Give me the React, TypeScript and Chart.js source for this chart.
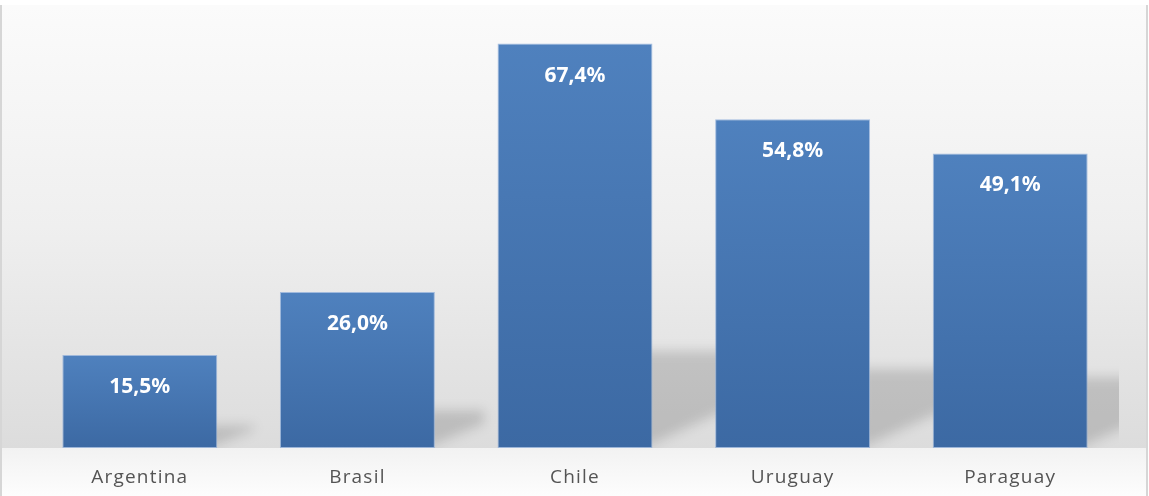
import React, { useEffect, useRef } from "react";
import { Chart, registerables } from "chart.js";

Chart.register(...registerables);

const categories = ["Argentina", "Brasil", "Chile", "Uruguay", "Paraguay"];
const values = [15.5, 26.0, 67.4, 54.8, 49.1];
const yMin = 0;
const yMax = 70;

const fmt = (v: number) => v.toFixed(1).replace(".", ",") + "%";

const backgroundPlugin = {
  id: "bgPlugin",
  beforeDraw(chart: any) {
    const { ctx, width, height, chartArea } = chart;
    ctx.save();
    ctx.fillStyle = "#ffffff";
    ctx.fillRect(0, 0, width, height);
    const base = chartArea.bottom;
    const g = ctx.createLinearGradient(0, 5, 0, base);
    g.addColorStop(0, "#fbfbfb");
    g.addColorStop(0.5, "#efefef");
    g.addColorStop(1, "#dcdcdc");
    ctx.fillStyle = g;
    ctx.fillRect(2, 5, width - 4, base - 5);
    const g2 = ctx.createLinearGradient(0, base, 0, height);
    g2.addColorStop(0, "#f2f2f2");
    g2.addColorStop(1, "#fdfdfd");
    ctx.fillStyle = g2;
    ctx.fillRect(2, base, width - 4, height - base);
    ctx.fillStyle = "#d6d6d6";
    ctx.fillRect(0, 5, 2, height - 5);
    ctx.fillRect(width - 3, 5, 2, height - 5);
    ctx.restore();
    ctx.letterSpacing = "1.2px";
  },
  beforeDatasetsDraw(chart: any) {
    const { ctx, chartArea } = chart;
    ctx.letterSpacing = "0px";
    const meta = chart.getDatasetMeta(0);
    ctx.save();
    ctx.beginPath();
    ctx.rect(chartArea.left - 20, chartArea.top, chartArea.right - chartArea.left + 20, chartArea.bottom - chartArea.top);
    ctx.clip();
    ctx.filter = "blur(6px)";
    meta.data.forEach((el: any) => {
      const p = el.getProps(["x", "y", "base", "width"], true);
      const xR = p.x + p.width / 2;
      const h = p.base - p.y;
      const top = p.base - 0.24 * h;
      const ext = 0.2 * h + 18;
      ctx.fillStyle = "rgba(0,0,0,0.15)";
      ctx.beginPath();
      ctx.moveTo(xR - 10, top);
      ctx.lineTo(xR + ext, top);
      ctx.lineTo(xR + ext, p.base - 0.5 * ext);
      ctx.lineTo(xR - 10, p.base);
      ctx.closePath();
      ctx.fill();
    });
    ctx.restore();
  },
  afterDatasetsDraw(chart: any) {
    const { ctx } = chart;
    const meta = chart.getDatasetMeta(0);
    ctx.save();
    ctx.font = "bold 21px 'Noto Sans'";
    ctx.fillStyle = "#ffffff";
    ctx.textAlign = "center";
    ctx.textBaseline = "middle";
    meta.data.forEach((el: any, i: number) => {
      const p = el.getProps(["x", "y"], true);
      ctx.fillText(fmt(values[i]), p.x, p.y + 32);
    });
    ctx.restore();
  },
};

export default function App() {
  const ref = useRef<HTMLCanvasElement | null>(null);
  useEffect(() => {
    document.body.style.margin = "0";
    const canvas = ref.current!;
    const chart = new Chart(canvas, {
      type: "bar",
      data: {
        labels: categories,
        datasets: [
          {
            data: values,
            backgroundColor: (c: any) => {
              const chart = c.chart;
              if (!chart.chartArea || c.dataIndex === undefined) return "#4a7bb7";
              const ys = chart.scales.y;
              const top = ys.getPixelForValue(values[c.dataIndex]);
              const base = ys.getPixelForValue(0);
              const g = chart.ctx.createLinearGradient(0, top, 0, base);
              g.addColorStop(0, "#4f81be");
              g.addColorStop(1, "#3c69a3");
              return g;
            },
            borderColor: "rgba(130,165,215,0.7)",
            borderWidth: 1,
            borderSkipped: false,
            barPercentage: 0.712,
            categoryPercentage: 1,
          },
        ],
      },
      options: {
        responsive: false,
        animation: false,
        layout: { padding: { left: 31, right: 30, top: 28, bottom: 9 } },
        plugins: { legend: { display: false }, tooltip: { enabled: false } },
        scales: {
          y: { display: false, min: yMin, max: yMax },
          x: {
            grid: { display: false, drawTicks: false },
            border: { display: false },
            afterFit: (scale: any) => {
              scale.height = 39;
            },
            ticks: {
              color: "#545454",
              font: { family: "'Open Sans'", size: 19 },
              padding: 18,
            },
          },
        },
      },
      plugins: [backgroundPlugin],
    });
    return () => chart.destroy();
  }, []);
  return <canvas ref={ref} width={1149} height={496} style={{ display: "block" }} />;
}
